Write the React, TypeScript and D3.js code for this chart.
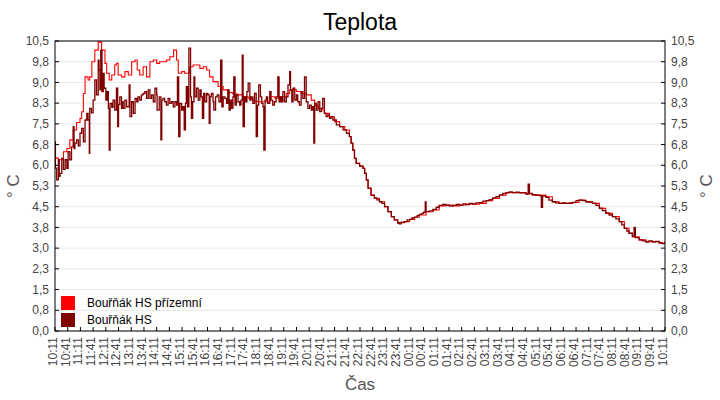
import React from "react";
import { scaleLinear, line, curveStepAfter, range } from "d3";

// minutes after 10:11, values in °C
const groundMin = [0, 8, 16, 20, 28, 35, 43, 51, 59, 63, 67, 71, 78, 82, 87, 94, 102, 106, 110, 118, 122, 128, 134, 141, 145, 149, 157, 165, 173, 181, 189, 194, 200, 208, 216, 224, 232, 240, 247, 255, 263, 271, 280, 287, 291, 299, 306, 318, 326, 334, 342, 350, 358, 365, 373, 385, 397, 408, 420, 432, 444, 456, 467, 479, 491, 507, 519, 530, 546, 554, 562, 570, 581, 593, 605, 613, 621, 629, 636, 648, 660, 672, 684, 695, 699, 703, 707, 711, 719, 727, 731, 735, 739, 746, 754, 766, 778, 786, 794, 801, 809, 817, 825, 837, 849, 860, 876, 892, 907, 923, 939, 955, 970, 986, 1002, 1018, 1033, 1049, 1065, 1080, 1096, 1112, 1127, 1143, 1159, 1174, 1190, 1206, 1222, 1237, 1253, 1269, 1285, 1300, 1316, 1332, 1344, 1355, 1363, 1379, 1395, 1410, 1426, 1440];
const groundVal = [6.26, 6.2, 6.22, 6.49, 6.61, 6.92, 7.28, 7.55, 7.7, 7.94, 8.6, 9.2, 9.09, 9.2, 9.75, 10.17, 10.48, 10.45, 10.17, 9.69, 9.33, 9.09, 9.27, 9.63, 9.69, 9.27, 9.2, 9.39, 9.27, 9.75, 9.81, 9.45, 9.27, 9.57, 9.2, 9.75, 9.81, 9.69, 9.75, 9.75, 9.81, 9.93, 10.17, 9.81, 9.33, 9.39, 9.33, 9.57, 9.63, 9.63, 9.51, 9.57, 9.45, 9.2, 9.03, 8.85, 8.73, 8.63, 8.58, 8.55, 8.48, 8.43, 8.33, 8.3, 8.3, 8.48, 8.43, 8.48, 8.6, 8.73, 8.73, 8.67, 8.6, 8.55, 8.36, 8.18, 8.06, 8.0, 7.88, 7.76, 7.58, 7.4, 7.28, 7.04, 6.8, 6.55, 6.25, 6.07, 5.97, 5.89, 5.71, 5.47, 5.17, 4.92, 4.8, 4.68, 4.5, 4.32, 4.14, 4.02, 3.9, 3.92, 3.96, 4.04, 4.12, 4.2, 4.32, 4.38, 4.53, 4.56, 4.53, 4.56, 4.59, 4.59, 4.62, 4.72, 4.8, 4.92, 5.01, 5.01, 5.01, 4.96, 4.92, 4.92, 4.86, 4.68, 4.62, 4.62, 4.65, 4.74, 4.68, 4.62, 4.44, 4.26, 4.14, 3.96, 3.72, 3.54, 3.41, 3.3, 3.24, 3.24, 3.18, 3.24];

const hsMin = [0, 1, 4, 8, 10, 12, 16, 20, 24, 28, 31, 35, 39, 43, 45, 47, 51, 55, 59, 63, 67, 71, 75, 78, 81, 82, 86, 90, 94, 98, 102, 104, 106, 108, 111, 114, 116, 120, 123, 126, 128, 130, 134, 137, 141, 145, 148, 150, 153, 157, 159, 161, 165, 169, 175, 177, 181, 185, 189, 193, 196, 200, 204, 208, 212, 216, 220, 224, 228, 232, 236, 240, 241, 246, 250, 252, 255, 259, 263, 267, 271, 275, 279, 283, 287, 289, 292, 295, 299, 302, 305, 308, 310, 313, 316, 320, 322, 325, 328, 330, 334, 338, 342, 345, 348, 351, 354, 358, 361, 364, 366, 369, 373, 375, 379, 383, 387, 391, 394, 397, 401, 405, 408, 411, 414, 417, 420, 422, 425, 428, 432, 436, 439, 442, 444, 447, 450, 453, 456, 460, 463, 467, 471, 475, 478, 481, 485, 488, 491, 493, 496, 499, 502, 507, 510, 514, 518, 522, 526, 529, 532, 535, 538, 542, 546, 550, 554, 556, 559, 562, 566, 570, 573, 577, 581, 585, 589, 593, 597, 601, 605, 608, 611, 613, 617, 621, 625, 629, 632, 636, 640, 644, 648, 652, 656, 664, 672, 680, 688, 695, 699, 703, 707, 711, 719, 727, 731, 735, 739, 746, 754, 760, 766, 772, 778, 786, 794, 801, 809, 813, 817, 825, 831, 837, 843, 849, 855, 860, 866, 870, 874, 876, 884, 892, 900, 907, 915, 923, 931, 939, 947, 955, 963, 970, 978, 986, 994, 1002, 1010, 1018, 1025, 1033, 1041, 1049, 1057, 1065, 1072, 1080, 1088, 1096, 1104, 1112, 1117, 1120, 1127, 1135, 1143, 1148, 1151, 1159, 1166, 1174, 1182, 1190, 1198, 1206, 1214, 1222, 1230, 1237, 1245, 1253, 1261, 1269, 1277, 1285, 1292, 1300, 1308, 1316, 1324, 1332, 1338, 1344, 1350, 1355, 1363, 1367, 1370, 1379, 1387, 1395, 1402, 1410, 1418, 1426, 1433, 1440];
const hsVal = [6.85, 5.9, 5.47, 6.2, 5.6, 5.71, 6.25, 5.85, 6.2, 5.89, 6.49, 6.2, 6.67, 7.4, 6.6, 6.8, 6.92, 6.7, 7.16, 7.34, 6.85, 7.64, 7.88, 7.64, 6.43, 8.06, 7.9, 8.36, 9.09, 8.55, 9.81, 9.45, 8.73, 10.17, 8.67, 9.33, 8.79, 8.36, 8.67, 8.06, 6.55, 8.24, 8.1, 8.36, 8.0, 8.79, 7.4, 8.2, 8.48, 8.06, 8.3, 8.06, 8.36, 8.12, 8.91, 7.76, 8.3, 7.88, 8.42, 8.3, 8.48, 8.36, 8.55, 8.6, 8.67, 8.42, 8.73, 8.42, 8.55, 8.3, 8.79, 8.55, 8.0, 8.48, 6.92, 8.36, 8.42, 8.3, 8.18, 8.42, 8.24, 8.3, 8.12, 8.3, 8.18, 9.2, 7.04, 8.24, 8.0, 8.12, 7.28, 8.24, 8.85, 8.12, 10.24, 8.48, 7.7, 8.3, 9.2, 8.48, 8.79, 8.36, 8.73, 8.48, 7.7, 8.6, 8.3, 8.6, 8.55, 7.52, 8.48, 8.6, 8.3, 8.0, 8.48, 8.55, 8.3, 9.81, 8.12, 8.48, 8.42, 8.24, 8.73, 8.0, 8.36, 8.06, 8.48, 9.2, 8.18, 8.55, 8.3, 8.18, 8.36, 9.99, 7.4, 8.48, 8.3, 8.67, 8.97, 8.36, 8.48, 8.24, 8.6, 7.04, 8.18, 8.91, 8.48, 8.24, 8.12, 6.55, 8.36, 8.48, 8.24, 8.67, 8.36, 8.18, 8.3, 8.48, 9.2, 8.3, 8.48, 8.3, 8.67, 8.3, 8.48, 8.91, 9.39, 8.73, 8.3, 8.79, 8.36, 8.55, 8.3, 8.18, 8.67, 8.42, 9.2, 8.3, 8.06, 8.18, 8.0, 8.12, 6.8, 8.24, 8.0, 8.3, 7.94, 8.06, 8.42, 7.88, 7.76, 7.82, 7.7, 7.76, 7.64, 7.46, 7.4, 7.28, 7.16, 7.04, 6.8, 6.55, 6.25, 6.07, 5.97, 5.89, 5.71, 5.47, 5.17, 4.92, 4.82, 4.75, 4.68, 4.62, 4.5, 4.32, 4.14, 4.02, 3.92, 3.88, 3.94, 3.96, 4.02, 4.04, 4.1, 4.12, 4.18, 4.22, 4.26, 4.3, 4.67, 4.32, 4.35, 4.4, 4.48, 4.55, 4.58, 4.56, 4.52, 4.55, 4.58, 4.56, 4.6, 4.58, 4.62, 4.6, 4.64, 4.65, 4.7, 4.72, 4.76, 4.82, 4.86, 4.92, 4.98, 5.01, 5.04, 5.01, 5.03, 5.0, 5.0, 4.96, 5.32, 4.98, 4.94, 4.92, 4.9, 4.48, 4.88, 4.84, 4.74, 4.68, 4.64, 4.62, 4.64, 4.62, 4.64, 4.66, 4.72, 4.74, 4.72, 4.68, 4.66, 4.62, 4.55, 4.45, 4.36, 4.28, 4.2, 4.14, 4.06, 3.96, 3.84, 3.72, 3.62, 3.54, 3.42, 3.75, 3.38, 3.3, 3.26, 3.22, 3.26, 3.22, 3.24, 3.2, 3.16, 3.22];

const yTicks = [0, 0.75, 1.5, 2.25, 3, 3.75, 4.5, 5.25, 6, 6.75, 7.5, 8.25, 9, 9.75, 10.5];
const yLabels = ["0,0", "0,8", "1,5", "2,3", "3,0", "3,8", "4,5", "5,3", "6,0", "6,8", "7,5", "8,3", "9,0", "9,8", "10,5"];
const xLabels = ["10:11", "10:41", "11:11", "11:41", "12:11", "12:41", "13:11", "13:41", "14:11", "14:41", "15:11", "15:41", "16:11", "16:41", "17:11", "17:41", "18:11", "18:41", "19:11", "19:41", "20:11", "20:41", "21:11", "21:41", "22:11", "22:41", "23:11", "23:41", "00:11", "00:41", "01:11", "01:41", "02:11", "02:41", "03:11", "03:41", "04:11", "04:41", "05:11", "05:41", "06:11", "06:41", "07:11", "07:41", "08:11", "08:41", "09:11", "09:41", "10:11"];
const seriesNames = ["Bouřňák HS přízemní", "Bouřňák HS"];
const seriesColors = ["#ff0000", "#800000"];

const W = 720, H = 400;
const L = 55, R = 665, T = 41, B = 331;
const font = "'Liberation Sans', Arial, sans-serif";

export default function App() {
  const x = scaleLinear().domain([0, 1440]).range([L, R]);
  const y = scaleLinear().domain([0, 10.5]).range([B, T]);

  const mk = (mins: number[], vals: number[]) =>
    line<number>()
      .x((i) => x(mins[i]))
      .y((i) => y(vals[i]))
      .curve(curveStepAfter)(range(mins.length)) || "";

  const series = [
    { d: mk(groundMin, groundVal), color: seriesColors[0], w: 1.1 },
    { d: mk(hsMin, hsVal), color: seriesColors[1], w: 1.3 },
  ];

  return (
    <svg
      width={W}
      height={H}
      style={{ position: "absolute", left: 0, top: 0, background: "#fff" }}
      fontFamily={font}
    >
      <defs>
        <clipPath id="plot">
          <rect x={L} y={T - 2} width={R - L} height={B - T + 2} />
        </clipPath>
      </defs>
      <rect width={W} height={H} fill="#fff" />
      <text x={360} y={30} textAnchor="middle" fontSize={23} fill="#000">
        Teplota
      </text>

      {/* grid */}
      {yTicks.map((t) => (
        <line key={"g" + t} x1={L} x2={R} y1={y(t)} y2={y(t)} stroke="#e8e8e8" />
      ))}

      {/* lines */}
      <g clipPath="url(#plot)">
        {series.map((s, i) => (
          <path key={i} d={s.d} fill="none" stroke={s.color} strokeWidth={s.w} />
        ))}
      </g>

      {/* frame */}
      <rect x={L} y={T} width={R - L} height={B - T} fill="none" stroke="#000" />

      {/* y ticks & labels */}
      {yTicks.map((t, i) => (
        <g key={"y" + t}>
          <line x1={L} x2={L + 4} y1={y(t)} y2={y(t)} stroke="#000" />
          <line x1={R - 4} x2={R} y1={y(t)} y2={y(t)} stroke="#000" />
          <text x={49} y={y(t)} dy="0.35em" textAnchor="end" fontSize={12} fill="#444">
            {yLabels[i]}
          </text>
          <text x={671} y={y(t)} dy="0.35em" textAnchor="start" fontSize={12} fill="#444">
            {yLabels[i]}
          </text>
        </g>
      ))}

      {/* x ticks & labels */}
      {xLabels.map((lab, i) => {
        const px = x(i * 30);
        return (
          <g key={"x" + i}>
            <line x1={px} x2={px} y1={B} y2={B - 4} stroke="#000" />
            <text
              transform={`translate(${px + 1.8},${B + 6}) rotate(-90)`}
              textAnchor="end"
              fontSize={12}
              fill="#444"
            >
              {lab}
            </text>
          </g>
        );
      })}

      {/* axis titles */}
      <text x={360} y={390} textAnchor="middle" fontSize={17} fill="#555">
        Čas
      </text>
      <text transform={`translate(19,${(T + B) / 2}) rotate(-90)`} textAnchor="middle" fontSize={17} fill="#555">
        ° C
      </text>
      <text transform={`translate(712,${(T + B) / 2}) rotate(-90)`} textAnchor="middle" fontSize={17} fill="#555">
        ° C
      </text>

      {/* legend */}
      {seriesNames.map((n, i) => (
        <g key={n}>
          <rect x={61} y={296 + i * 17} width={14} height={14} fill={seriesColors[i]} />
          <text x={87} y={307 + i * 17} fontSize={12} fill="#000">
            {n}
          </text>
        </g>
      ))}
    </svg>
  );
}
